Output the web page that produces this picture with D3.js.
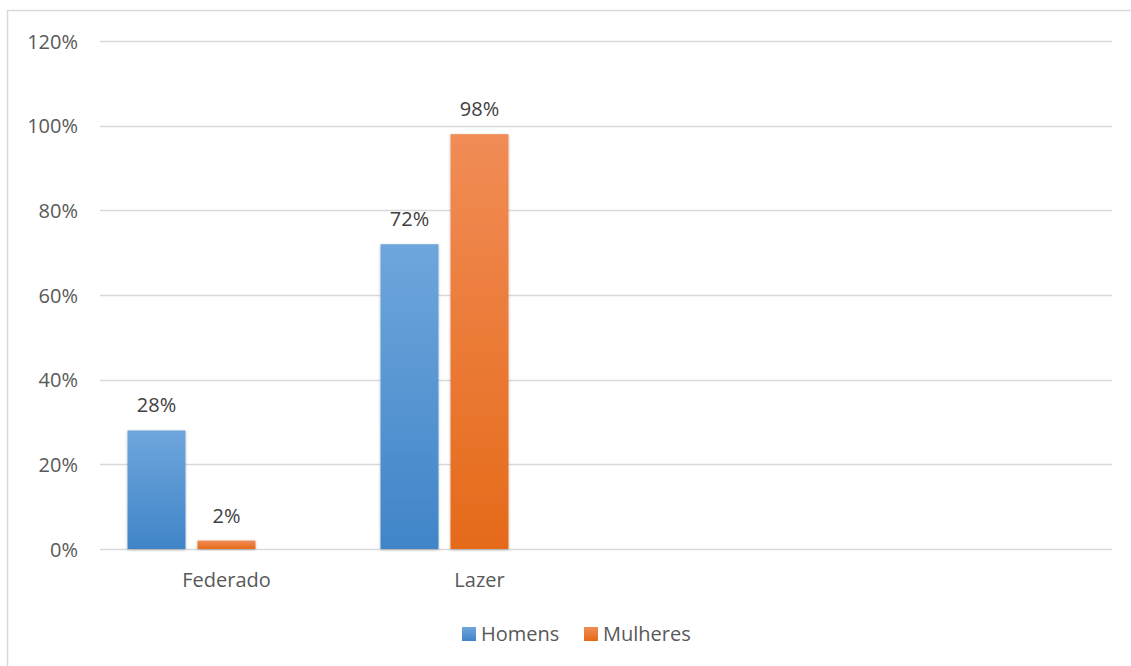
<!DOCTYPE html>
<html>
<head>
<meta charset="utf-8">
<script src="https://cdn.jsdelivr.net/npm/d3@7"></script>
<style>
  body { margin: 0; background: #fff; }
  svg { display: block; font-family: "Open Sans", sans-serif; }
</style>
</head>
<body>
<div id="chart"></div>
<script>
// categories (Excel range had 4 slots, last two empty)
var categories = ["Federado", "Lazer", "", ""];
var seriesNames = ["Homens", "Mulheres"];
var homens = [0.28, 0.72];
var mulheres = [0.02, 0.98];
var yTicks = [0, 0.2, 0.4, 0.6, 0.8, 1.0, 1.2];

var W = 1131, H = 666;
var plotLeft = 100, plotRight = 1112, plotTop = 41, plotBottom = 549;
var fontSize = 20;

var svg = d3.select("#chart").append("svg")
  .attr("width", W)
  .attr("height", H);

var defs = svg.append("defs");
var grads = [
  {id: "gHomens", top: "#6ea6dc", bottom: "#4085c8"},
  {id: "gMulheres", top: "#f18c56", bottom: "#e56a19"}
];
grads.forEach(function(g) {
  var lg = defs.append("linearGradient")
    .attr("id", g.id)
    .attr("x1", 0).attr("y1", 0).attr("x2", 0).attr("y2", 1);
  lg.append("stop").attr("offset", "0%").attr("stop-color", g.top);
  lg.append("stop").attr("offset", "100%").attr("stop-color", g.bottom);
});
var shadow = defs.append("filter").attr("id", "shadow")
  .attr("x", "-20%").attr("y", "-20%").attr("width", "140%").attr("height", "140%");
shadow.append("feDropShadow")
  .attr("dx", 0).attr("dy", 1).attr("stdDeviation", 1.5)
  .attr("flood-color", "#000").attr("flood-opacity", 0.25);

// outer chart border (only top/left visible in crop)
svg.append("path")
  .attr("d", "M7.5," + H + "V10.5H" + W)
  .attr("fill", "none")
  .attr("stroke", "#d9d9d9")
  .attr("stroke-width", 1.5);

var y = d3.scaleLinear().domain([0, 1.2]).range([plotBottom, plotTop]);

var x0 = d3.scaleBand()
  .domain(d3.range(categories.length))
  .range([plotLeft, plotRight])
  .paddingInner(55 / 253)
  .paddingOuter(27.5 / 253);

// third slot is an empty series
var x1 = d3.scaleBand()
  .domain([0, 1, 2])
  .range([0, x0.bandwidth()])
  .paddingInner(12 / 70);

// gridlines
svg.append("g").selectAll("line")
  .data(yTicks)
  .join("line")
  .attr("x1", plotLeft).attr("x2", plotRight)
  .attr("y1", function(d) { return Math.round(y(d)) + 0.5; })
  .attr("y2", function(d) { return Math.round(y(d)) + 0.5; })
  .attr("stroke", "#d9d9d9")
  .attr("stroke-width", 1.5);

// y axis labels
var yAxis = d3.axisLeft(y)
  .tickValues(yTicks)
  .tickFormat(d3.format(".0%"))
  .tickSize(0)
  .tickPadding(0);
var ya = svg.append("g")
  .attr("transform", "translate(78,0)")
  .call(yAxis);
ya.select(".domain").remove();
ya.selectAll("text")
  .attr("dy", "0.35em")
  .attr("fill", "#595959")
  .attr("font-size", fontSize)
  .attr("font-family", "'Open Sans', sans-serif");

// x axis labels
var xAxis = d3.axisBottom(x0)
  .tickFormat(function(i) { return categories[i]; })
  .tickSize(0)
  .tickPadding(0);
var xa = svg.append("g")
  .attr("transform", "translate(0,580)")
  .call(xAxis);
xa.select(".domain").remove();
xa.selectAll("text")
  .attr("dy", "0.35em")
  .attr("fill", "#595959")
  .attr("font-size", fontSize)
  .attr("font-family", "'Open Sans', sans-serif");

var seriesData = [homens, mulheres];
var fills = ["url(#gHomens)", "url(#gMulheres)"];
var fmt = d3.format(".0%");

seriesData.forEach(function(vals, s) {
  var g = svg.append("g");
  g.selectAll("rect")
    .data(vals)
    .join("rect")
    .attr("x", function(d, i) { return x0(i) + x1(s); })
    .attr("y", function(d) { return y(d); })
    .attr("width", x1.bandwidth())
    .attr("height", function(d) { return y(0) - y(d); })
    .attr("fill", fills[s])
    .attr("filter", "url(#shadow)");
  g.selectAll("text")
    .data(vals)
    .join("text")
    .attr("x", function(d, i) { return x0(i) + x1(s) + x1.bandwidth() / 2; })
    .attr("y", function(d) { return y(d) - 25; })
    .attr("dy", "0.35em")
    .attr("text-anchor", "middle")
    .attr("fill", "#404040")
    .attr("font-size", fontSize)
    .text(function(d) { return fmt(d); });
});

// legend
var legendX = [462, 584];
var leg = svg.append("g");
seriesNames.forEach(function(name, s) {
  leg.append("rect")
    .attr("x", legendX[s]).attr("y", 627)
    .attr("width", 14).attr("height", 14)
    .attr("fill", fills[s]);
  leg.append("text")
    .attr("x", legendX[s] + 19).attr("y", 634)
    .attr("dy", "0.35em")
    .attr("fill", "#595959")
    .attr("font-size", fontSize)
    .text(name);
});
</script>
</body>
</html>
